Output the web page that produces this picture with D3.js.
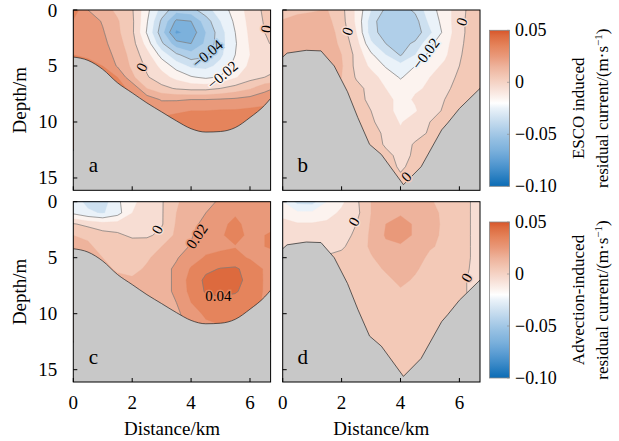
<!DOCTYPE html>
<html><head><meta charset="utf-8">
<script src="https://cdn.jsdelivr.net/npm/d3@7"></script>
<style>body{margin:0;background:#fff}svg{display:block}text{font-family:"Liberation Serif","Times New Roman",serif;fill:#000}</style>
</head><body><svg id="chart" width="619" height="441"></svg>
<script>
// grid values are in units of 0.001 m/s
const UNIT = 0.001;
const distanceNodes = [0,0.5,1,1.5,2,2.5,3,3.5,4,4.5,5,5.5,6,6.5,7];
const depthNodesShallow = [0,1,2,3,4,5,6,7,8,9,10,11,12];
const depthNodesDeep = [0,1,2,3,4,5,6,7,8,9,10,11,12,13,14,15,16];

// (a) ESCO induced, shallow section
const escoShallow = [
 [36,20,14, 8, 1,-17,-34,-46,-44,-34,-25,-16, -6, 2, 8],
 [29,26,19,11, 2,-19,-42,-62,-60,-45,-30,-18, -7, 1, 6],
 [27,28,21,12, 2,-21,-46,-72,-66,-50,-34,-20, -8, 0, 4],
 [27,28,23,14, 4,-14,-38,-56,-60,-48,-34,-21, -9,-1, 2],
 [30,29,25,17, 6, -6,-24,-38,-46,-42,-32,-20,-10,-4,-1],
 [33,32,30,19, 8, -2,-13,-24,-32,-33,-27,-17, -8,-3,-1],
 [36,34,32,30,12,  1, -6,-13,-19,-22,-19,-11, -4, 0, 2],
 [39,36,33,33,28, 10,  3, -1, -3, -3,  0,  4,  9,17,22],
 [41,38,35,34,33, 26, 19, 19, 20, 20, 21, 22, 24,26,27],
 [42,40,38,35,34, 32, 28, 29, 30, 30, 31, 31, 32,33,33],
 [44,42,40,37,35, 33, 32, 33, 34, 35, 35, 36, 36,36,36],
 [45,44,42,40,37, 35, 35, 36, 37, 38, 38, 38, 38,38,38],
 [46,45,43,41,38, 36, 36, 37, 38, 39, 39, 39, 39,39,39]
];
// (b) ESCO induced, deep section
const escoDeep = [
 [ 7, 8, 9,10.5, 3,-12,-30,-42,-45,-38,-24,-15,-4,5,9],
 [10.5,13,14,13, 4,-12,-35,-48,-50,-44,-27,-16,-3,5,9],
 [14,16,16,15,  6,-10,-35,-46,-48,-46,-32,-17,-3,5,9],
 [15,16,16,15,  8, -6,-28,-40,-44,-38,-22,-14,-2,5,9],
 [15,16,16,15, 10, -3,-18,-30,-41,-30,-17,-12,-1,5,9],
 [14,15,15,14, 11, -3,-12,-21,-26,-20,-14, -8, 0,5,9],
 [13,14,14,13, 10, -1, -6,-14,-21,-15,-10, -5, 2,5,9],
 [13,13,13,12,  8,  3, -3,-10,-15,-11, -9, -2, 3,5,9],
 [12,12,12,11,  8,  3, -2, -7,-13, -9, -5,  0, 4,5,8],
 [11,11,11,10,  8,  5,  0, -8,-12,-11, -3,  1, 4,5,8],
 [10,10,10, 9,  8,  6,  1, -3,-11, -4,  0,  2, 4,5,8],
 [ 9, 9, 9, 9,  8,  6,  4, -2, -8, -3,  1,  3, 4,5,8],
 [ 8, 8, 8, 8,  8,  6,  4, -1, -4,  1,  2,  3, 4,5,8],
 [ 7, 7, 7, 7,  7,  6,  5,  2, -2,  1,  3,  3, 4,5,8],
 [ 6, 6, 6, 6,  6,  6,  5,  3, -1,  2,  3,  3, 4,5,8],
 [ 6, 6, 6, 6,  6,  6,  5,  3,  1,  2,  3,  3, 4,5,8],
 [ 6, 6, 6, 6,  6,  6,  5,  4,  2,  3,  3,  3, 4,5,8]
];
// (c) Advection induced, shallow section
const advShallow = [
 [-25,-33,-35,-22,-12,-6,-1, 9,14,18,21,  25,  24,26,27],
 [-22,-28,-31,-24,-10,-5,-1,10,15,20,25,  29,  26,27,28],
 [  1, -3, -6, -6, -5,-4,-1,11,17,23,28,  32,  27,29,29],
 [ 10,  9,  4,  2, -2,-2, 3,12,19,26,29,  33,  28,30,33],
 [ 12, 11,  8,  7,  6, 7,10,15,21,27,28,  29.5,28,30,32],
 [ 13, 12, 10,  8,  7, 9,13,19,26,31,33,  33,  29,28,28],
 [ 14, 13, 12,  9,  8,11,16,22,31,38,40.5,41.5,36,29,29],
 [ 15, 15, 14, 12, 11,13,16,22,34,42,44,  43,  37,29,29],
 [ 16, 16, 15, 14, 14,15,16,22,33,41,42.5,41,  36,29,28],
 [ 17, 17, 17, 16, 16,16,17,20,30,36,37,  36,  33,29,28],
 [ 17, 17, 17, 17, 17,17,17,18,25,32,33,  32,  30,28,27],
 [ 17, 17, 17, 17, 17,17,17,18,22,28,30,  29,  28,27,27],
 [ 17, 17, 17, 17, 17,17,17,18,21,26,28,  28,  27,27,27]
];
// (d) Advection induced, deep section
const advDeep = [
 [-20,-33,-34,-20,-12,-2,10,14,15,14,11,7,3,-1,-4],
 [-12,-18,-18,-14, -8,-3,10,18,19,18,13,8,3,-1,-3],
 [ -8, -9, -9, -8, -4, 0,11,20,23,19,14,8,3,-1,-3],
 [ -6, -6, -6, -5, -2, 1,12,21,23,19,13,8,3,-1,-3],
 [ -5, -5, -5, -3, -1, 3,12,18,19,17,11,8,3,-1,-3],
 [ -4, -4, -1,  1,  2, 4, 9,15,17,14, 8,7,3,-1,-2],
 [ -3, -3,  1,  2,  2, 4, 7,11,14,11, 7,5,2,-1,-2],
 [ -2, -2,  1,  2,  2, 4, 6, 8,12, 9, 6,4,1,-1,-2],
 [ -2, -2,  1,  2,  2, 4, 5, 7, 9, 7, 5,4,1,-1,-2],
 [  1,  1,  2,  2,  3, 4, 5, 6, 7, 6, 5,4,2,-1,-2],
 [  2,  2,  2,  3,  3, 4, 5, 5, 6, 5, 5,4,2,-1,-2],
 [  2,  2,  2,  3,  3, 4, 5, 5, 6, 5, 5,4,2,-1,-2],
 [  2,  2,  2,  3,  3, 4, 5, 5, 6, 5, 5,4,2,-1,-2],
 [  2,  2,  2,  3,  3, 4, 5, 5, 6, 5, 5,4,2,-1,-2],
 [  2,  2,  2,  3,  3, 4, 5, 5, 6, 5, 5,4,2,-1,-2],
 [  2,  2,  2,  3,  3, 4, 5, 5, 6, 5, 5,4,2,-1,-2],
 [  2,  2,  2,  3,  3, 4, 5, 5, 6, 5, 5,4,2,-1,-2]
];

// bathymetry (distance km, depth m)
const bedShallowDistance = [0,0.5,1,1.5,2,2.5,3,3.5,4,4.5,5,5.5,6,6.5,6.7];
const bedShallowDepth    = [4.2,4.5,5.3,6.5,7.4,8.3,9.1,9.9,10.6,10.9,10.85,10.5,9.6,8.5,7.9];
const bedDeepDistance = [0,0.15,0.8,1.3,1.75,2.2,2.55,2.95,3.35,4.1,4.7,5.4,5.6,6.0,6.7];
const bedDeepDepth    = [4.2,3.85,3.6,3.65,5.0,7.3,9.6,12.0,12.9,15.6,14.0,10.7,10.1,8.8,7.0];

const fillLevels = [-100,-90,-80,-70,-60,-50,-40,-30,-20,-10,0,10,20,30,40];
const lineLevelsFull = [-80,-60,-40,-20,0,20,40];
const lineLevelsZero = [0];
const xTicks = [0,2,4,6];
const yTicks = [0,5,10,15];
const cbarTicks = [0.05,0,-0.05,-0.10];
const cbarTickLabels = ["0.05","0","\u22120.05","\u22120.10"];

// contour labels: panel, distance, depth, text, angle
const labelPanel = ["a","a","a","a","b","b","b","b","c","c","c","d","d"];
const labelDist  = [2.33,4.56,5.07,6.55,2.2,4.86,6.08,4.2,2.85,4.2,4.93,2.42,6.25];
const labelDepth = [5.1,3.9,5.8,1.7,1.9,3.9,1.05,14.9,2.5,3.1,8.45,1.8,6.8];
const labelText  = ["0","\u22120.04","\u22120.02","0","0","\u22120.02","0","0","0","0.02","0.04","0","0"];
const labelAngle = [-65,-40,-40,-80,-70,-53,-70,-45,-62,-56,0,-60,-60];

// colour map
const cmapValues = [-0.10,-0.085,-0.075,-0.065,-0.055,-0.045,-0.035,-0.025,-0.02,-0.015,-0.005,0.005,0.015,0.025,0.035,0.045,0.05];
const cmapColors = ["#0b6cb5","#3f8cc9","#5f9fd4","#7cb1dc","#94bfe2","#b0cfe9","#cde0f0","#eaf2f9","#ffffff","#fcf3ef","#f7ddd3","#f3c9b7","#eeb39c","#e9997a","#e5845c","#dd6a3e","#d8552a"];
const cmap = d3.scaleLinear().domain(cmapValues).range(cmapColors).clamp(true);

const svg = d3.select("#chart");
const PW = 197.3, PH = 180.3;
const panels = [
 {id:"a", grid:escoShallow, depths:depthNodesShallow, bd:bedShallowDistance, bz:bedShallowDepth, curve:d3.curveMonotoneX, left:73.3, top:10, yLab:true, xLab:false, lines:lineLevelsFull},
 {id:"b", grid:escoDeep, depths:depthNodesDeep, bd:bedDeepDistance, bz:bedDeepDepth, curve:d3.curveLinear, left:282.7, top:10, yLab:false, xLab:false, lines:lineLevelsFull},
 {id:"c", grid:advShallow, depths:depthNodesShallow, bd:bedShallowDistance, bz:bedShallowDepth, curve:d3.curveMonotoneX, left:73.3, top:201.7, yLab:true, xLab:true, lines:lineLevelsFull},
 {id:"d", grid:advDeep, depths:depthNodesDeep, bd:bedDeepDistance, bz:bedDeepDepth, curve:d3.curveLinear, left:282.7, top:201.7, yLab:false, xLab:true, lines:lineLevelsZero}
];

function sample(grid, depths, x, z){
  const dx = distanceNodes[1]-distanceNodes[0], dz = depths[1]-depths[0];
  const fi = (x-distanceNodes[0])/dx, fj = (z-depths[0])/dz;
  const i0 = Math.max(0,Math.min(distanceNodes.length-2,Math.floor(fi)));
  const j0 = Math.max(0,Math.min(depths.length-2,Math.floor(fj)));
  const tx = fi-i0, tz = fj-j0;
  const v00=grid[j0][i0], v10=grid[j0][i0+1], v01=grid[j0+1][i0], v11=grid[j0+1][i0+1];
  return (v00*(1-tx)+v10*tx)*(1-tz)+(v01*(1-tx)+v11*tx)*tz;
}
function bandColor(v){
  let t = fillLevels[0];
  fillLevels.forEach(l=>{ if (v>=l) t=l; });
  return cmap((t+5)*UNIT);
}

panels.forEach(p=>{
  const xs = d3.scaleLinear().domain([0,6.7]).range([p.left,p.left+PW]);
  const ys = d3.scaleLinear().domain([0,16.1]).range([p.top,p.top+PH]);
  const g = svg.append("g");
  const clipId = "clip-"+p.id;
  svg.append("clipPath").attr("id",clipId).append("rect")
    .attr("x",p.left).attr("y",p.top).attr("width",PW).attr("height",PH);
  const body = g.append("g").attr("clip-path","url(#"+clipId+")");
  const nx = distanceNodes.length, ny = p.depths.length;
  const dx = distanceNodes[1]-distanceNodes[0], dz = p.depths[1]-p.depths[0];
  const flat = p.grid.flat();
  const tr = d3.geoTransform({point:function(cx,cy){
    this.stream.point(xs(distanceNodes[0]+(cx-0.5)*dx), ys(p.depths[0]+(cy-0.5)*dz));
  }});
  const path = d3.geoPath(tr);
  const fills = d3.contours().size([nx,ny]).thresholds(fillLevels)(flat);
  body.selectAll("path.band").data(fills).join("path").attr("class","band")
    .attr("d",path).attr("fill",d=>cmap((d.value+5)*UNIT)).attr("stroke",d=>cmap((d.value+5)*UNIT)).attr("stroke-width",0.3);
  const lines = d3.contours().size([nx,ny]).thresholds(p.lines)(flat);
  body.selectAll("path.cl").data(lines).join("path").attr("class","cl")
    .attr("d",path).attr("fill","none").attr("stroke","#7a7a7a").attr("stroke-width",0.7);
  // bathymetry
  const bed = p.bd.map((d,i)=>[d,p.bz[i]]);
  body.append("path").datum(bed)
    .attr("d",d3.area().x(d=>xs(d[0])).y0(p.top+PH+5).y1(d=>ys(d[1])).curve(p.curve))
    .attr("fill","#c8c8c8");
  body.append("path").datum(bed)
    .attr("d",d3.line().x(d=>xs(d[0])).y(d=>ys(d[1])).curve(p.curve))
    .attr("fill","none").attr("stroke","#222").attr("stroke-width",0.7);
  // contour labels
  labelPanel.forEach((lp,i)=>{
    if (lp!==p.id) return;
    const v = sample(p.grid,p.depths,labelDist[i],labelDepth[i]);
    const col = bandColor(v);
    body.append("text")
      .attr("transform","translate("+xs(labelDist[i])+","+ys(labelDepth[i])+") rotate("+labelAngle[i]+")")
      .attr("text-anchor","middle").attr("dominant-baseline","central")
      .attr("font-size",15).attr("stroke",col).attr("stroke-width",3)
      .attr("paint-order","stroke").text(labelText[i]);
  });
  // frame
  g.append("rect").attr("x",p.left).attr("y",p.top).attr("width",PW).attr("height",PH)
    .attr("fill","none").attr("stroke","#000").attr("stroke-width",1);
  // ticks
  yTicks.forEach(t=>{
    g.append("line").attr("x1",p.left).attr("x2",p.left+4).attr("y1",ys(t)).attr("y2",ys(t)).attr("stroke","#000");
    if (p.yLab) g.append("text").attr("x",p.left-16).attr("y",ys(t)).attr("text-anchor","end")
      .attr("dominant-baseline","central").attr("font-size",19).text(t);
  });
  xTicks.forEach(t=>{
    g.append("line").attr("x1",xs(t)).attr("x2",xs(t)).attr("y1",p.top+PH).attr("y2",p.top+PH-4).attr("stroke","#000");
    if (p.xLab) g.append("text").attr("x",xs(t)).attr("y",p.top+PH+27).attr("text-anchor","middle")
      .attr("font-size",19).text(t);
  });
  g.append("text").attr("x",p.left+20).attr("y",p.top+PH-18).attr("text-anchor","middle")
    .attr("font-size",21).text(p.id);
  if (p.yLab) g.append("text").attr("transform","translate(26,"+(p.top+PH/2)+") rotate(-90)")
    .attr("text-anchor","middle").attr("font-size",19).text("Depth/m");
  if (p.xLab) g.append("text").attr("x",p.left+PW/2).attr("y",p.top+PH+53).attr("text-anchor","middle")
    .attr("font-size",19).text("Distance/km");
});

// colour bars
const defs = svg.append("defs");
const grad = defs.append("linearGradient").attr("id","cg").attr("x1",0).attr("y1",1).attr("x2",0).attr("y2",0);
cmapValues.forEach((v,i)=>{
  grad.append("stop").attr("offset",((v+0.10)/0.15)).attr("stop-color",cmapColors[i]);
});
const cbars = [
 {top:30.3, title1:"ESCO induced"},
 {top:222, title1:"Advection-induced"}
];
cbars.forEach(cb=>{
  const cy = d3.scaleLinear().domain([-0.10,0.05]).range([cb.top+156,cb.top]);
  const g = svg.append("g");
  g.append("rect").attr("x",489.5).attr("y",cb.top).attr("width",20).attr("height",156)
    .attr("fill","url(#cg)").attr("stroke","#888").attr("stroke-width",0.8);
  cbarTicks.forEach((t,i)=>{
    g.append("line").attr("x1",509.5).attr("x2",507).attr("y1",cy(t)).attr("y2",cy(t)).attr("stroke","#888").attr("stroke-width",0.6);
    g.append("text").attr("x",515).attr("y",cy(t)).attr("dominant-baseline","central")
      .attr("font-size",18).text(cbarTickLabels[i]);
  });
  const mid = cb.top+78;
  g.append("text").attr("transform","translate(584,"+mid+") rotate(-90)").attr("text-anchor","middle")
    .attr("font-size",17).text(cb.title1);
  const t2 = g.append("text").attr("transform","translate(608,"+mid+") rotate(-90)").attr("text-anchor","middle")
    .attr("font-size",17);
  t2.append("tspan").text("residual current/(m\u00b7s");
  t2.append("tspan").attr("dy",-6).attr("font-size",11).text("\u22121");
  t2.append("tspan").attr("dy",6).text(")");
});
</script></body></html>
